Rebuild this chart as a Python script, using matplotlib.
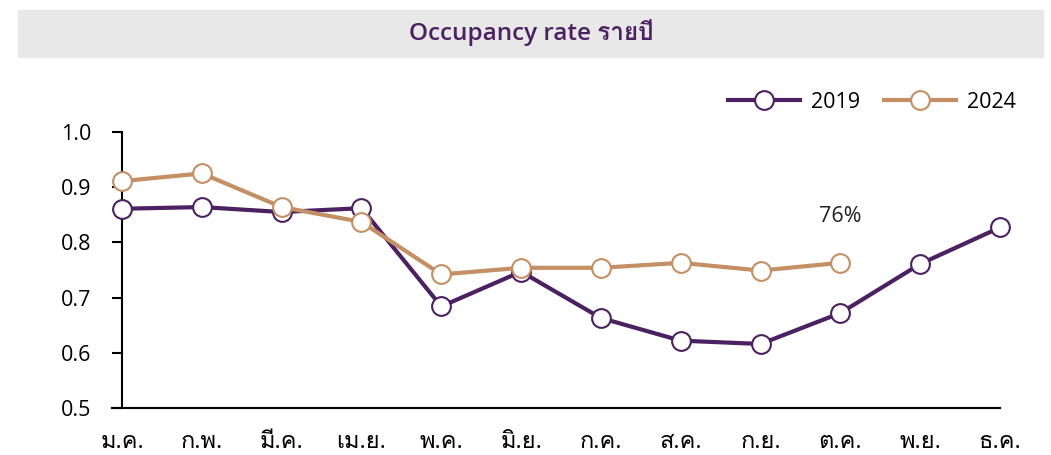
import matplotlib
matplotlib.use("Agg")
import matplotlib.pyplot as plt
from matplotlib import font_manager
from matplotlib.ft2font import FT2Font
from matplotlib.patches import Rectangle

months = ["ม.ค.", "ก.พ.", "มี.ค.", "เม.ย.", "พ.ค.", "มิ.ย.",
          "ก.ค.", "ส.ค.", "ก.ย.", "ต.ค.", "พ.ย.", "ธ.ค."]
occ_2019 = [0.861, 0.864, 0.855, 0.862, 0.684, 0.747,
            0.663, 0.622, 0.616, 0.672, 0.761, 0.827]
occ_2024 = [0.911, 0.925, 0.864, 0.837, 0.742, 0.754,
            0.754, 0.763, 0.749, 0.763]
yticks = [0.5, 0.6, 0.7, 0.8, 0.9, 1.0]

# หา font ที่มีอักษรไทย
thai = None
for f in font_manager.fontManager.ttflist:
    try:
        if 0x0E01 in FT2Font(f.fname).get_charmap():
            thai = f.name
            break
    except Exception:
        pass
fam = ["Open Sans"] + ([thai] if thai else []) + ["DejaVu Sans"]
plt.rcParams["font.family"] = fam

PURPLE = "#4b2161"
TAN = "#c48f63"

fig = plt.figure(figsize=(10.51, 4.55), dpi=100)
fig.add_artist(Rectangle((18 / 1051, 1 - 57 / 455), 1025 / 1051, 47 / 455,
                         transform=fig.transFigure, color="#e8e8e8", zorder=0))
fig.text(0.505, 1 - 33 / 455, "Occupancy rate รายปี", ha="center", va="center",
         fontsize=17.5, fontweight="semibold", color=PURPLE)

ax = fig.add_axes([122 / 1051, 1 - 408 / 455, 878 / 1051, 276 / 455])
x19 = list(range(len(occ_2019)))
x24 = list(range(len(occ_2024)))
ax.plot(x19, occ_2019, color=PURPLE, lw=3, marker="o", ms=13.5, mfc="white",
        mec=PURPLE, mew=1.5, label="2019", clip_on=False, zorder=3)
ax.plot(x24, occ_2024, color=TAN, lw=3, marker="o", ms=13.5, mfc="white",
        mec=TAN, mew=1.5, label="2024", clip_on=False, zorder=4)
ax.text(x24[-1], 0.847, f"{occ_2024[-1] * 100:.0f}%", ha="center", va="center",
        fontsize=15.5, color="#222222")

ax.set_xlim(0, 11)
ax.set_ylim(0.5, 1.0)
ax.set_yticks(yticks)
ax.set_yticklabels([f"{v:.1f}" for v in yticks])
ax.set_xticks(range(12))
ax.set_xticklabels(months)
ax.tick_params(axis="y", length=7, width=1.5, pad=15, labelsize=15.5)
ax.tick_params(axis="x", length=0, pad=16, labelsize=17)
for s in ["top", "right"]:
    ax.spines[s].set_visible(False)
for s in ["left", "bottom"]:
    ax.spines[s].set_linewidth(1.5)
ax.spines["bottom"].set_bounds(-0.12, 11)

ax.legend(loc="center right", bbox_to_anchor=(1035 / 1051, 1 - 102 / 455),
          bbox_transform=fig.transFigure, ncol=2, frameon=False, fontsize=15.5,
          handlelength=3.35, handletextpad=0.5, columnspacing=1.1)

fig.savefig("out.png", dpi=100)
